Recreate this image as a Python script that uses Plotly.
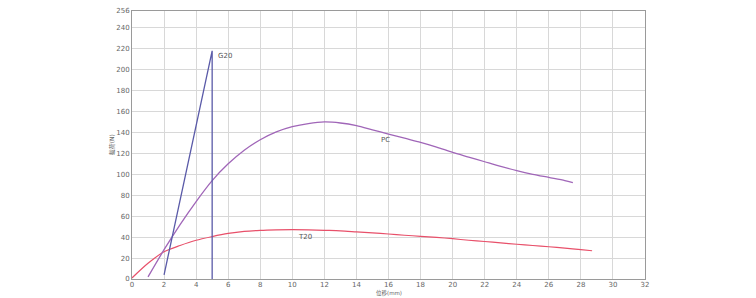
import plotly.graph_objects as go

# G20 series
g20_x = [2.0, 5.0, 5.0]
g20_y = [4, 218, 0]

# PC series
pc_x = [1, 2, 3, 4, 5, 6, 7, 8, 9, 10, 11, 12, 13, 14, 15, 16, 17, 18, 19, 20,
        21, 22, 23, 24, 25, 26, 27, 27.5]
pc_y = [2, 28, 52, 74, 94, 110, 123, 133, 140.5, 145.5, 148.5, 150, 149, 146.5,
        142.5, 138.5, 134.5, 130.5, 126, 121, 116.5, 112, 107.5, 103.5, 100,
        97, 94, 92]

# T20 series
t20_x = [0, 1, 2, 3, 4, 5, 6, 7, 8, 9, 10, 11, 12, 13, 14, 15, 16, 17, 18, 19,
         20, 21, 22, 23, 24, 25, 26, 27, 28, 28.7]
t20_y = [1, 15, 26, 32, 37, 40.5, 43.5, 45.5, 46.5, 47, 47.2, 47, 46.5, 46, 45,
         44, 43, 41.8, 40.8, 39.8, 38.5, 37, 35.8, 34.5, 33.2, 32, 30.8, 29.5,
         28, 27]

x_ticks = list(range(0, 33, 2))
y_ticks = list(range(0, 241, 20)) + [256]

font_family = "DejaVu Sans, Noto Sans CJK SC"

fig = go.Figure()
fig.add_trace(go.Scatter(x=t20_x, y=t20_y, mode="lines",
                         line=dict(color="#e8506a", width=1.2, shape="spline",
                                   smoothing=0.8),
                         name="T20"))
fig.add_trace(go.Scatter(x=pc_x, y=pc_y, mode="lines",
                         line=dict(color="#a066b8", width=1.3, shape="spline",
                                   smoothing=0.8),
                         name="PC"))
fig.add_trace(go.Scatter(x=g20_x, y=g20_y, mode="lines",
                         line=dict(color="#5a5aa8", width=1.3),
                         name="G20"))

fig.add_annotation(x=5.25, y=213, text="G20", showarrow=False, xanchor="left",
                   font=dict(size=7, color="#555555", family=font_family))
fig.add_annotation(x=15.8, y=133, text="PC", showarrow=False,
                   font=dict(size=7, color="#555555", family=font_family))
fig.add_annotation(x=10.8, y=40, text="T20", showarrow=False,
                   font=dict(size=7, color="#555555", family=font_family))

# axis titles
fig.add_annotation(xref="paper", yref="paper", x=0.5, y=-0.0705, yanchor="bottom",
                   text="位移(mm)", showarrow=False, borderpad=0,
                   font=dict(size=5.5, color="#666666", family=font_family))
fig.add_annotation(xref="paper", yref="paper", x=-0.05, y=0.5, textangle=-90,
                   text="载荷(N)", showarrow=False,
                   font=dict(size=6, color="#666666", family=font_family))

fig.update_layout(
    width=756, height=298,
    margin=dict(l=132, r=111, t=11, b=19),
    paper_bgcolor="white", plot_bgcolor="white",
    showlegend=False,
    font=dict(family=font_family, size=7, color="#666666"),
    xaxis=dict(range=[0, 32], tickvals=x_ticks, showgrid=True, automargin=False,
               gridcolor="#d8d8d8", gridwidth=1, zeroline=False,
               showline=True, linecolor="#9a9a9a", linewidth=1, mirror=True,
               ticks="", ticklabelstandoff=-1,
               tickfont=dict(size=7, color="#666666")),
    yaxis=dict(range=[0, 256], tickvals=y_ticks, showgrid=True, automargin=False,
               gridcolor="#d8d8d8", gridwidth=1, zeroline=False,
               showline=True, linecolor="#9a9a9a", linewidth=1, mirror=True,
               ticks="", tickfont=dict(size=7, color="#666666")),
)

fig.write_html("out.html")
